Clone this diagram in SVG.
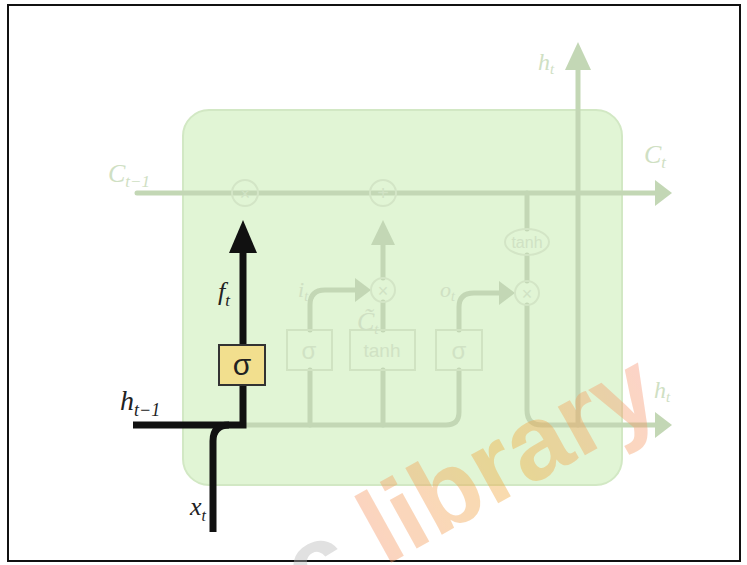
<svg xmlns="http://www.w3.org/2000/svg" width="747" height="565" viewBox="0 0 747 565">
<defs>
<style>
.fl{fill:none;stroke:#c3d7b5;stroke-width:5;stroke-linecap:round;stroke-linejoin:round}
.fc{fill:none;stroke:#d3e5c6;stroke-width:2}
.fb{fill:none;stroke:#d0e3c2;stroke-width:2}
.ft{fill:#cfe0c3;font-family:'Liberation Serif',serif;font-style:italic}
.fs{fill:#d0e2c4;font-family:'Liberation Sans',sans-serif}
.ah{fill:#c3d7b5}
.bl{fill:none;stroke:#111;stroke-width:7;stroke-linejoin:miter}
.bt{fill:#222;font-family:'Liberation Serif',serif;font-style:italic}
</style>
<linearGradient id="wm" gradientUnits="userSpaceOnUse" x1="0" y1="0" x2="320" y2="0">
<stop offset="0" stop-color="#f79a6c"/>
<stop offset="0.5" stop-color="#f0ad3c"/>
<stop offset="1" stop-color="#f89a7c"/>
</linearGradient>
</defs>
<rect x="0" y="0" width="747" height="565" fill="#fff"/>
<rect x="8" y="5" width="732" height="556" fill="none" stroke="#111" stroke-width="2"/>
<g id="cell">
<rect x="183" y="110" width="439" height="375" rx="26" fill="#e1f5d5" stroke="#d2e8c4" stroke-width="2"/>
</g>
<g id="connectors">
<path class="fl" d="M137,193 H655"/>
<polygon class="ah" points="655,180 672,193 655,206"/>
<path class="fl" d="M578,425 V70"/>
<polygon class="ah" points="565,70 578,42 591,70"/>
<path class="fl" d="M243,425 H446 Q459,425 459,412 V370"/>
<path class="fl" d="M310,425 V370"/>
<path class="fl" d="M383,425 V370"/>
<path class="fl" d="M310,330 V305 Q310,290 325,290 H355"/>
<polygon class="ah" points="355,278 371,290 355,302"/>
<path class="fl" d="M383,330 V302"/>
<path class="fl" d="M383,278 V245"/>
<polygon class="ah" points="371,245 383,220 395,245"/>
<path class="fl" d="M459,330 V307 Q459,293 474,293 H499"/>
<polygon class="ah" points="499,281 515,293 499,305"/>
<path class="fl" d="M527,193 V229"/>
<path class="fl" d="M527,255 V281"/>
<path class="fl" d="M527,305 V410 Q527,425 542,425 H655"/>
<polygon class="ah" points="655,412 672,425 655,438"/>
</g>
<g id="ops">
<circle class="fc" cx="245" cy="193" r="13"/>
<text class="fs" x="245" y="200" font-size="18" text-anchor="middle">×</text>
<circle class="fc" cx="383" cy="193" r="13"/>
<text class="fs" x="383" y="200" font-size="20" text-anchor="middle">+</text>
<circle class="fc" cx="383" cy="290" r="12"/>
<text class="fs" x="383" y="297" font-size="18" text-anchor="middle">×</text>
<circle class="fc" cx="527" cy="293" r="12"/>
<text class="fs" x="527" y="300" font-size="18" text-anchor="middle">×</text>
<ellipse class="fc" cx="527" cy="242" rx="22" ry="13"/>
<text class="fs" x="527" y="248" font-size="16" text-anchor="middle">tanh</text>
</g>
<g id="gates">
<rect class="fb" x="287" y="330" width="45" height="40" fill="#e1f5d5"/>
<text class="fs" x="309" y="359" font-size="24" text-anchor="middle">σ</text>
<rect class="fb" x="350" y="330" width="65" height="40" fill="#e1f5d5"/>
<text class="fs" x="382" y="357" font-size="19" text-anchor="middle">tanh</text>
<rect class="fb" x="436" y="330" width="46" height="40" fill="#e1f5d5"/>
<text class="fs" x="459" y="359" font-size="24" text-anchor="middle">σ</text>
</g>
<g id="labels">
<text class="ft" x="108" y="182" font-size="26">C<tspan font-size="17" dy="5">t−1</tspan></text>
<text class="ft" x="644" y="163" font-size="26">C<tspan font-size="17" dy="5">t</tspan></text>
<text class="ft" x="538" y="70" font-size="24">h<tspan font-size="15" dy="4">t</tspan></text>
<text class="ft" x="654" y="398" font-size="24">h<tspan font-size="15" dy="4">t</tspan></text>
<text class="ft" x="298" y="297" font-size="22">i<tspan font-size="14" dy="4">t</tspan></text>
<text class="ft" x="440" y="297" font-size="22">o<tspan font-size="14" dy="4">t</tspan></text>
<text class="ft" x="357" y="330" font-size="26">C̃<tspan font-size="15" dy="4">t</tspan></text>
</g>
<g id="forget">
<path class="bl" d="M133,425 H243 V385"/>
<path class="bl" d="M213,532 V441 Q213,425 229,425" stroke-width="6"/>
<path class="bl" d="M243,345 V250" stroke-width="6"/>
<polygon points="229,253 243,220 257,253" fill="#111"/>
<rect x="219" y="345" width="46" height="40" fill="#f2df8e" stroke="#333" stroke-width="2"/>
<text x="242" y="375" font-size="30" text-anchor="middle" fill="#222" font-family="'Liberation Sans',sans-serif">σ</text>
<text class="bt" x="218" y="300" font-size="26">f<tspan font-size="17" dy="6">t</tspan></text>
<text class="bt" x="120" y="410" font-size="28">h<tspan font-size="18" dy="6">t−1</tspan></text>
<text class="bt" x="190" y="515" font-size="26" fill="#333">x<tspan font-size="16" dy="6">t</tspan></text>
</g>
<g id="watermark" opacity="0.42">
<text transform="translate(385,566) rotate(-29)" x="-88" y="0" font-size="105" font-weight="bold" font-family="'Liberation Sans',sans-serif"><tspan fill="#b8b8b8">c </tspan><tspan fill="url(#wm)">library</tspan></text>
</g>
</svg>
